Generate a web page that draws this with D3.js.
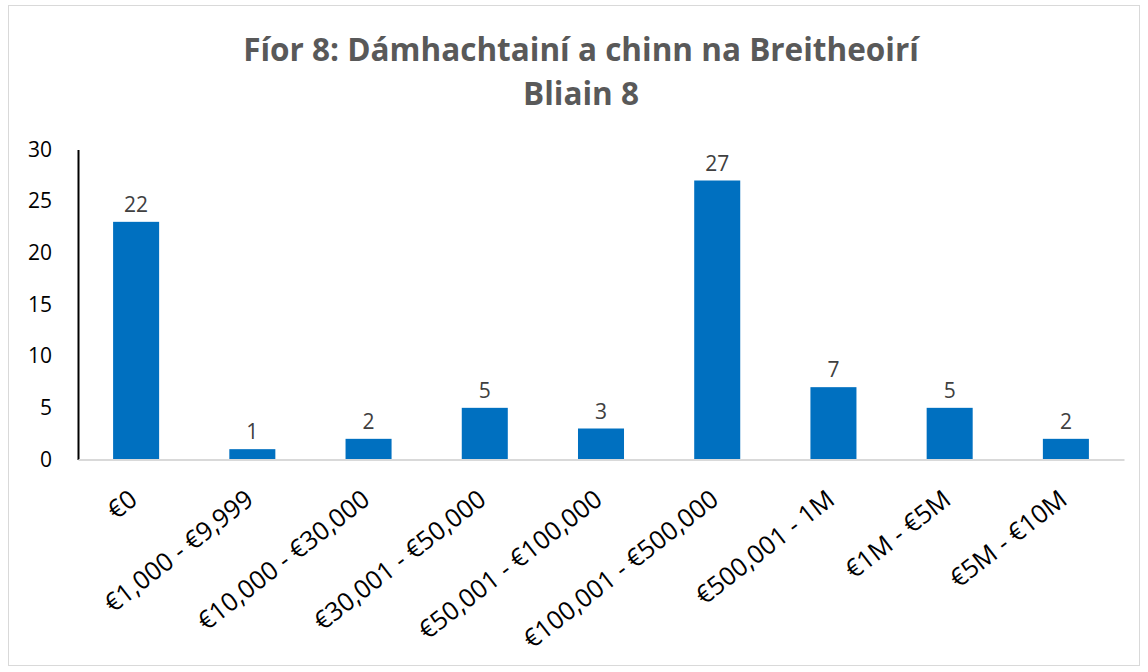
<!DOCTYPE html>
<html>
  <head>
    <meta charset="utf-8">
    <title>Fíor 8</title>
    <script src="https://d3js.org/d3.v7.min.js"></script>
    <style>
      body { margin: 0; background: #fff; }
    </style>
  </head>
  <body>
    <svg id="canvas" width="1148" height="672"></svg>
    <script>
      // data (first bar is drawn at 23 but labelled 22)
      var categories = ["€0", "€1,000 - €9,999", "€10,000 - €30,000", "€30,001 - €50,000",
        "€50,001 - €100,000", "€100,001 - €500,000", "€500,001 - 1M", "€1M - €5M", "€5M - €10M"];
      var values = [23, 1, 2, 5, 3, 27, 7, 5, 2];
      var valueLabels = ["22", "1", "2", "5", "3", "27", "7", "5", "2"];
      var yTicks = [0, 5, 10, 15, 20, 25, 30];
      var titleLines = ["Fíor 8: Dámhachtainí a chinn na Breitheoirí", "Bliain 8"];

      var font = "'Open Sans', sans-serif";
      var svg = d3.select("#canvas");

      // chart border
      svg.append("rect")
        .attr("x", 8.5).attr("y", 5.5)
        .attr("width", 1131).attr("height", 660)
        .style("fill", "#fff").style("stroke", "#d9d9d9");

      var x = d3.scaleBand()
        .domain(categories)
        .range([78, 1124])
        .paddingInner(0.604)
        .paddingOuter(0.302);

      var y = d3.scaleLinear()
        .domain([0, 30])
        .range([459.5, 149.5]);

      // title
      svg.selectAll(".title")
        .data(titleLines)
        .enter()
        .append("text")
        .attr("class", "title")
        .attr("x", 581)
        .attr("y", function(d, i){ return 61 + i * 44; })
        .text(function(d){ return d; })
        .style("text-anchor", "middle")
        .style("font-family", font)
        .style("font-weight", "bold")
        .style("font-size", "31.5px")
        .style("fill", "#595959");

      // y axis
      var yAxis = svg.append("g")
        .attr("transform", "translate(78,0)")
        .call(d3.axisLeft(y).tickValues(yTicks).tickSize(0).tickPadding(26));
      yAxis.select(".domain").style("stroke", "#000").style("stroke-width", 2);
      yAxis.selectAll("text")
        .style("font-family", font)
        .style("font-size", "21px")
        .style("fill", "#000");

      // bars
      svg.selectAll(".bar")
        .data(values)
        .enter()
        .append("rect")
        .attr("class", "bar")
        .attr("x", function(d, i){ return x(categories[i]); })
        .attr("y", function(d){ return y(d); })
        .attr("width", x.bandwidth())
        .attr("height", function(d){ return y(0) - y(d); })
        .style("fill", "#0070c0");

      // x baseline
      var xAxis = svg.append("g")
        .attr("transform", "translate(0," + y(0) + ")")
        .call(d3.axisBottom(x).tickSize(0).tickPadding(0));
      xAxis.select(".domain").style("stroke", "#d9d9d9").style("stroke-width", 2);
      xAxis.selectAll("text")
        .attr("y", 0)
        .attr("dy", 0)
        .attr("transform", "translate(3,43) rotate(-38)")
        .style("text-anchor", "end")
        .style("font-family", font)
        .style("font-size", "25.5px")
        .style("fill", "#000");

      // value labels
      svg.selectAll(".val")
        .data(values)
        .enter()
        .append("text")
        .attr("class", "val")
        .attr("x", function(d, i){ return x(categories[i]) + x.bandwidth() / 2; })
        .attr("y", function(d){ return y(d) - 10; })
        .text(function(d, i){ return valueLabels[i]; })
        .style("text-anchor", "middle")
        .style("font-family", font)
        .style("font-size", "21px")
        .style("fill", "#404040");
    </script>
  </body>
</html>
